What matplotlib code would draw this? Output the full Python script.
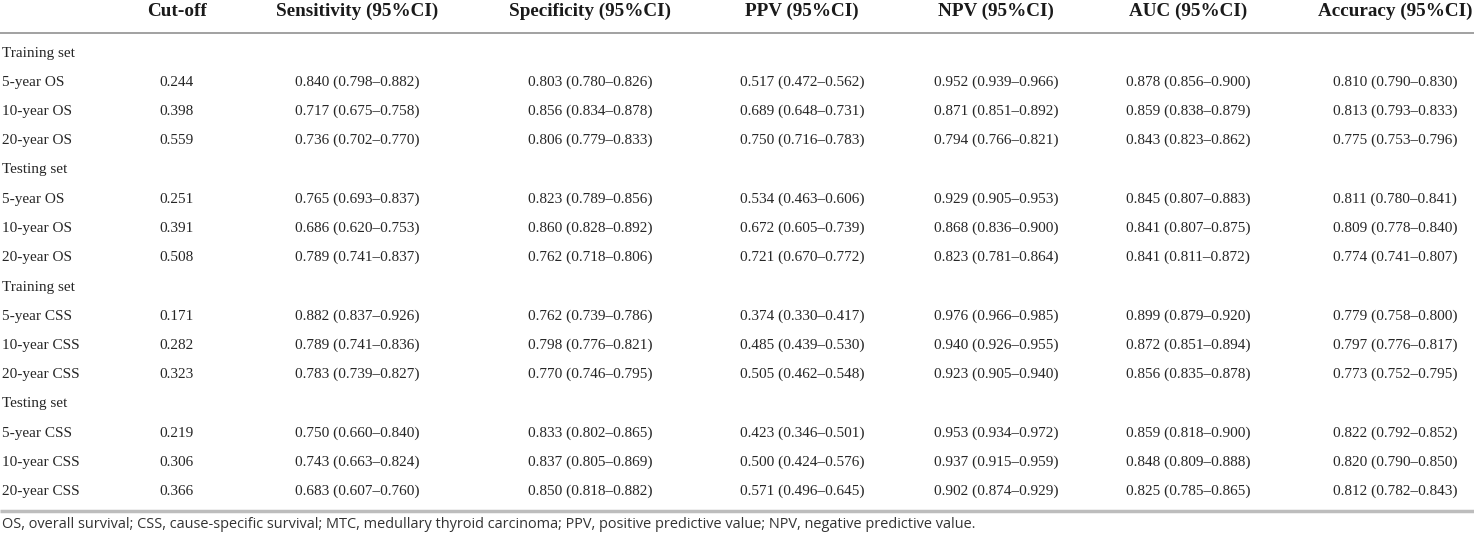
import matplotlib
matplotlib.use("Agg")
import matplotlib.pyplot as plt

# ---- data ----
headers = ["Cut-off", "Sensitivity (95%CI)", "Specificity (95%CI)", "PPV (95%CI)",
           "NPV (95%CI)", "AUC (95%CI)", "Accuracy (95%CI)"]

row_labels = ["Training set", "5-year OS", "10-year OS", "20-year OS",
              "Testing set", "5-year OS", "10-year OS", "20-year OS",
              "Training set", "5-year CSS", "10-year CSS", "20-year CSS",
              "Testing set", "5-year CSS", "10-year CSS", "20-year CSS"]

cutoff = [None, 0.244, 0.398, 0.559, None, 0.251, 0.391, 0.508,
          None, 0.171, 0.282, 0.323, None, 0.219, 0.306, 0.366]

sensitivity = [None, (0.840, 0.798, 0.882), (0.717, 0.675, 0.758), (0.736, 0.702, 0.770),
               None, (0.765, 0.693, 0.837), (0.686, 0.620, 0.753), (0.789, 0.741, 0.837),
               None, (0.882, 0.837, 0.926), (0.789, 0.741, 0.836), (0.783, 0.739, 0.827),
               None, (0.750, 0.660, 0.840), (0.743, 0.663, 0.824), (0.683, 0.607, 0.760)]

specificity = [None, (0.803, 0.780, 0.826), (0.856, 0.834, 0.878), (0.806, 0.779, 0.833),
               None, (0.823, 0.789, 0.856), (0.860, 0.828, 0.892), (0.762, 0.718, 0.806),
               None, (0.762, 0.739, 0.786), (0.798, 0.776, 0.821), (0.770, 0.746, 0.795),
               None, (0.833, 0.802, 0.865), (0.837, 0.805, 0.869), (0.850, 0.818, 0.882)]

ppv = [None, (0.517, 0.472, 0.562), (0.689, 0.648, 0.731), (0.750, 0.716, 0.783),
       None, (0.534, 0.463, 0.606), (0.672, 0.605, 0.739), (0.721, 0.670, 0.772),
       None, (0.374, 0.330, 0.417), (0.485, 0.439, 0.530), (0.505, 0.462, 0.548),
       None, (0.423, 0.346, 0.501), (0.500, 0.424, 0.576), (0.571, 0.496, 0.645)]

npv = [None, (0.952, 0.939, 0.966), (0.871, 0.851, 0.892), (0.794, 0.766, 0.821),
       None, (0.929, 0.905, 0.953), (0.868, 0.836, 0.900), (0.823, 0.781, 0.864),
       None, (0.976, 0.966, 0.985), (0.940, 0.926, 0.955), (0.923, 0.905, 0.940),
       None, (0.953, 0.934, 0.972), (0.937, 0.915, 0.959), (0.902, 0.874, 0.929)]

auc = [None, (0.878, 0.856, 0.900), (0.859, 0.838, 0.879), (0.843, 0.823, 0.862),
       None, (0.845, 0.807, 0.883), (0.841, 0.807, 0.875), (0.841, 0.811, 0.872),
       None, (0.899, 0.879, 0.920), (0.872, 0.851, 0.894), (0.856, 0.835, 0.878),
       None, (0.859, 0.818, 0.900), (0.848, 0.809, 0.888), (0.825, 0.785, 0.865)]

accuracy = [None, (0.810, 0.790, 0.830), (0.813, 0.793, 0.833), (0.775, 0.753, 0.796),
            None, (0.811, 0.780, 0.841), (0.809, 0.778, 0.840), (0.774, 0.741, 0.807),
            None, (0.779, 0.758, 0.800), (0.797, 0.776, 0.817), (0.773, 0.752, 0.795),
            None, (0.822, 0.792, 0.852), (0.820, 0.790, 0.850), (0.812, 0.782, 0.843)]

footnote = ("OS, overall survival; CSS, cause-specific survival; MTC, medullary thyroid carcinoma; "
            "PPV, positive predictive value; NPV, negative predictive value.")

# ---- layout ----
W, H = 1474, 539
fig = plt.figure(figsize=(W / 100, H / 100), dpi=100)
ax = fig.add_axes([0, 0, 1, 1])
ax.set_xlim(0, W)
ax.set_ylim(H, 0)
ax.axis("off")

text_color = "#262626"
serif = ["Liberation Serif", "DejaVu Serif"]
col_x = [177, 357, 590, 802, 996, 1188, 1395]
header_y = 11
row_y0 = 53
row_dy = 29.25

for x, h in zip(col_x, headers):
    ax.text(x, header_y, h, ha="center", va="center", fontsize=13.8,
            fontweight="bold", family=serif, color="#1a1a1a")

ax.plot([0, W], [33, 33], color="#9a9a9a", lw=1.3, solid_capstyle="butt")

def fmt(v):
    return f"{v[0]:.3f} ({v[1]:.3f}\u2013{v[2]:.3f})"

metrics = [sensitivity, specificity, ppv, npv, auc, accuracy]
for i, lab in enumerate(row_labels):
    y = row_y0 + i * row_dy
    ax.text(2, y, lab, ha="left", va="center", fontsize=11, family=serif, color=text_color)
    if cutoff[i] is not None:
        ax.text(col_x[0], y, f"{cutoff[i]:.3f}", ha="center", va="center",
                fontsize=11, family=serif, color=text_color)
    for j, m in enumerate(metrics):
        if m[i] is not None:
            ax.text(col_x[j + 1], y, fmt(m[i]), ha="center", va="center",
                    fontsize=11, family=serif, color=text_color)

ax.plot([0, W], [511, 511], color="#bdbdbd", lw=2.5, solid_capstyle="butt")

ax.text(2, 524, footnote, ha="left", va="center", fontsize=10.45,
        family=["Open Sans", "DejaVu Sans"], color="#333333")

fig.savefig("out.png", dpi=100)
